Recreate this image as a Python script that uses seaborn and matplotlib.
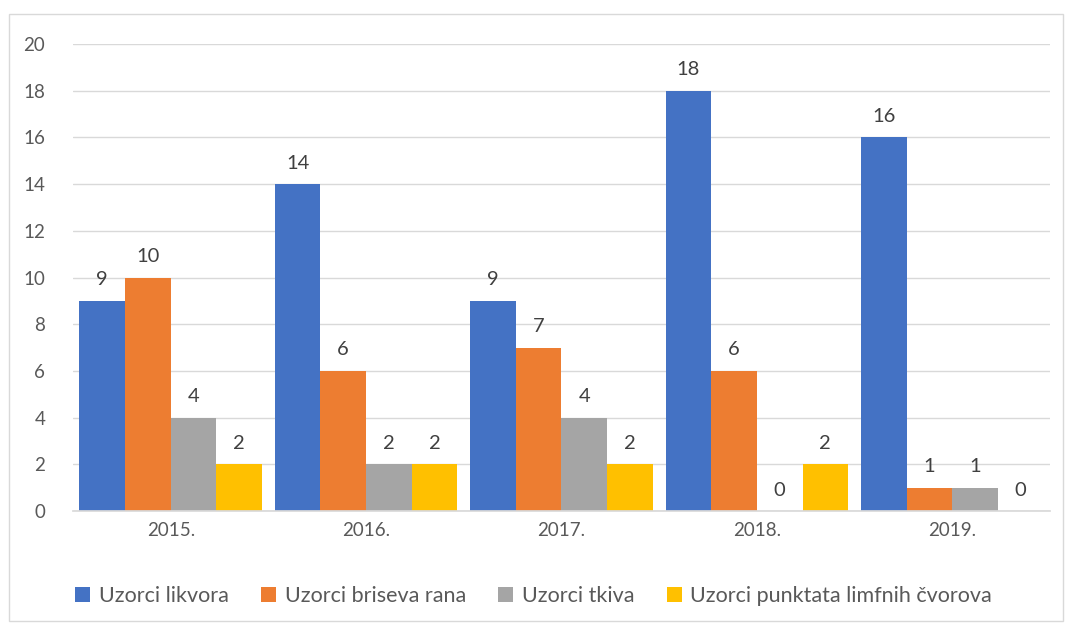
import pandas as pd
import matplotlib.pyplot as plt
import seaborn as sns
from matplotlib.patches import Rectangle

years = ['2015.', '2016.', '2017.', '2018.', '2019.']
series_names = ['Uzorci likvora', 'Uzorci briseva rana', 'Uzorci tkiva',
                'Uzorci punktata limfnih čvorova']
likvor = [9, 14, 9, 18, 16]
brisevi = [10, 6, 7, 6, 1]
tkivo = [4, 2, 4, 0, 1]
punktati = [2, 2, 2, 2, 0]

palette = ['#4472C4', '#ED7D31', '#A5A5A5', '#FFC000']
text_color = '#595959'

df = pd.DataFrame({
    'Godina': years * 4,
    'Serija': [s for s in series_names for _ in years],
    'Broj': likvor + brisevi + tkivo + punktati,
})

sns.set_theme(style='white')
plt.rcParams['font.family'] = ['Lato', 'DejaVu Sans']

fig = plt.figure(figsize=(10.67, 6.26), dpi=100)
ax = fig.add_axes([0.0684, 0.1837, 0.9156, 0.746])

sns.barplot(data=df, x='Godina', y='Broj', hue='Serija', palette=palette,
            width=0.935, gap=0, saturation=1, linewidth=0, ax=ax, legend=True)

for cont in ax.containers:
    ax.bar_label(cont, padding=9, fontsize=14.5, color='#404040')

ax.set_ylim(0, 20)
ax.set_yticks(range(0, 21, 2))
ax.set_xlim(-0.5, 4.5)
ax.set_xlabel('')
ax.set_ylabel('')
ax.yaxis.grid(True, color='#D9D9D9', linewidth=1)
ax.set_axisbelow(True)
for side in ['top', 'right', 'left']:
    ax.spines[side].set_visible(False)
ax.spines['bottom'].set_color('#D9D9D9')
ax.tick_params(axis='both', length=0, labelsize=13.5, colors=text_color)
ax.tick_params(axis='x', pad=8)
ax.tick_params(axis='y', pad=20)

handles, labels = ax.get_legend_handles_labels()
ax.legend_.remove()
fig.legend(handles, labels, loc='center', bbox_to_anchor=(0.5, 0.048), ncol=4,
           frameon=False, fontsize=15.5, labelcolor=text_color,
           handlelength=0.7, handleheight=0.7, handletextpad=0.4, columnspacing=1.5)

fig.patches.append(Rectangle((0.008, 0.008), 0.988, 0.97, transform=fig.transFigure,
                             fill=False, edgecolor='#D9D9D9', linewidth=1))

fig.savefig('out.png', dpi=100)
